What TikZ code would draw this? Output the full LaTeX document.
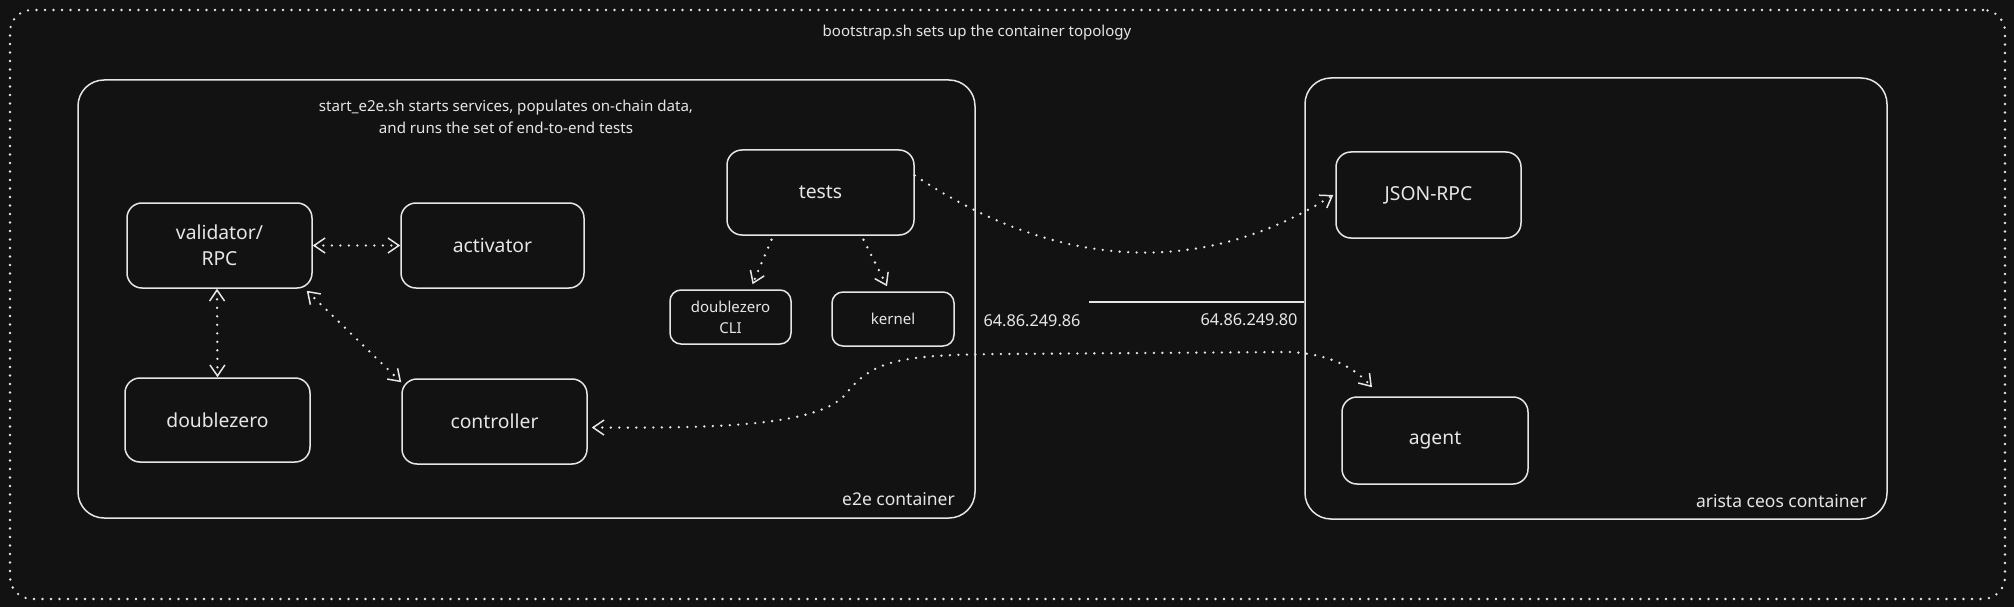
\documentclass[tikz,border=0pt]{standalone}
\usepackage{fontspec}
\setmainfont{Noto Sans}
\usetikzlibrary{arrows.meta,calc}
\definecolor{bg}{HTML}{121212}
\definecolor{fg}{HTML}{E6E6E6}
\begin{document}
\begin{tikzpicture}[x=1pt,y=-1pt,
  box/.style={draw=fg, line width=1.5pt, rounded corners=15pt, text=fg, align=center, inner sep=0pt, font=\fontsize{19.3}{26}\selectfont},
  smallbox/.style={box, rounded corners=11pt, font=\fontsize{15}{21}\selectfont},
  cont/.style={draw=fg, line width=1.5pt, rounded corners=26pt, inner sep=0pt},
  lbl/.style={text=fg, inner sep=0pt, align=center},
  dotline/.style={draw=fg, line width=2.6pt, line cap=round, dash pattern=on 0pt off 8.5pt},
  tip/.tip={Straight Barb[length=11pt,width=15pt,line width=1.5pt]},
  conn/.style={dotline, tip-tip},
  conn1/.style={dotline, -tip},
]
\fill[bg] (0,0) rectangle (2014,607);
% outer topology
\node[dotline, rounded corners=22pt, minimum width=1995pt, minimum height=589pt, inner sep=0pt] (topo) at (1007.5,304.5) {};
\node[lbl, font=\fontsize{15}{18}\selectfont] (title) at (977,33) {bootstrap.sh sets up the container topology};
% containers
\node[cont, minimum width=897pt, minimum height=438pt] (e2e) at (526.5,299) {};
\node[cont, minimum width=582pt, minimum height=441pt] (arista) at (1596,298.5) {};
\node[lbl, font=\fontsize{15.1}{21.5}\selectfont] (starttxt) at (506,117) {start\_e2e.sh starts services, populates on-chain data,\\and runs the set of end-to-end tests};
\node[lbl, anchor=east, font=\fontsize{17.5}{21}\selectfont] (e2elbl) at (955,499) {e2e container};
\node[lbl, anchor=east, font=\fontsize{17.5}{21}\selectfont] (aristalbl) at (1867,501) {arista ceos container};
% boxes
\node[box, minimum width=185pt, minimum height=85pt] (val) at (219.5,245.5) {validator/\\RPC};
\node[box, minimum width=183pt, minimum height=85pt] (act) at (492.5,245.5) {activator};
\node[box, minimum width=185pt, minimum height=84pt] (dz) at (217.5,420) {doublezero};
\node[box, minimum width=185pt, minimum height=85pt] (ctrl) at (494.5,421.5) {controller};
\node[box, minimum width=187pt, minimum height=85pt] (tests) at (820.5,192.5) {tests};
\node[smallbox, minimum width=121pt, minimum height=54pt] (cli) at (730.5,317) {doublezero\\CLI};
\node[smallbox, minimum width=122pt, minimum height=54pt] (kern) at (893,319) {kernel};
\node[box, minimum width=185pt, minimum height=86pt] (jrpc) at (1428.5,195) {JSON-RPC};
\node[box, minimum width=186pt, minimum height=87pt] (agent) at (1435,440.5) {agent};
% link
\coordinate (linkA) at (1089,302);
\draw[fg, line width=1.5pt] (linkA) -- (linkA -| arista.west);
\node[lbl, font=\fontsize{16.3}{20}\selectfont] (ipA) at (1032,321) {64.86.249.86};
\node[lbl, font=\fontsize{16.3}{20}\selectfont] (ipB) at (1249,320) {64.86.249.80};
% connectors
\draw[conn] (val.east) -- (act.west);
\draw[conn] ([xshift=-2.5]val.south) -- (dz.north);
\draw[conn] ([shift={(-6,2)}]val.south east) -- ([shift={(0,4)}]ctrl.north west);
\draw[conn1] ([shift={(-49,4)}]tests.south) -- ([shift={(22,-5)}]cli.north);
\draw[conn1] ([shift={(43,4)}]tests.south) -- ([shift={(-6,-5)}]kern.north);
\draw[conn1] ([yshift=17]tests.east) .. controls (1045,262) and (1190,285) .. ([xshift=-2]jrpc.west);
\draw[conn] ([shift={(4,6)}]ctrl.east) .. controls (700,428) and (815,428) .. (845,395) .. controls (872,360) and (900,355) .. (1000,354) -- (1290,352) .. controls (1330,354) and (1355,368) .. ([shift={(-63,-9)}]agent.north);
\end{tikzpicture}
\end{document}
